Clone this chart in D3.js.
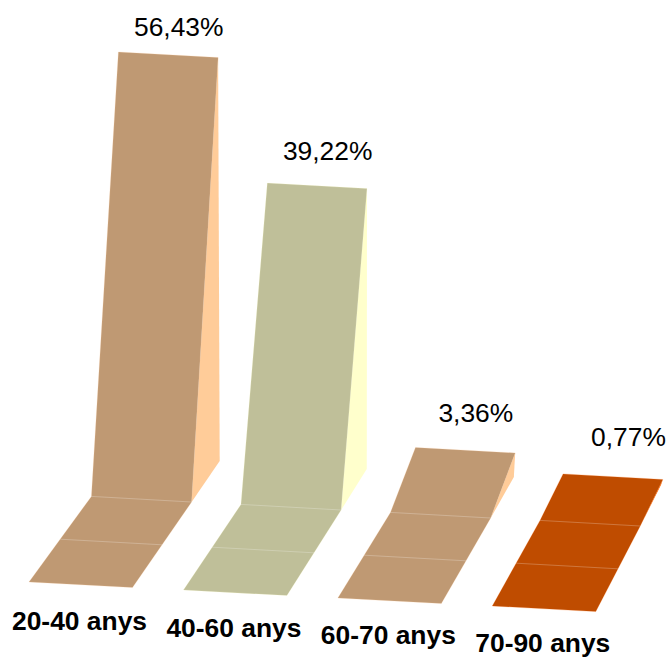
<!DOCTYPE html>
<html>
<head>
<meta charset="utf-8">
<style>
  html, body { margin: 0; padding: 0; background: #fff; }
  svg { display: block; }
  text { font-family: "Liberation Sans", Arial, sans-serif; fill: #000; }
</style>
<script src="https://cdn.jsdelivr.net/npm/d3@7"></script>
</head>
<body>
<svg id="chart" width="669" height="657"></svg>
<script>
// Age bands and their share, in percent
const categories = ["20-40 anys", "40-60 anys", "60-70 anys", "70-90 anys"];
const values = [56.43, 39.22, 3.36, 0.77];
const valueLabels = ["56,43%", "39,22%", "3,36%", "0,77%"];
const faceColors = ["#bf9973", "#bfbf99", "#bf9973", "#bf4c00"];
const sideColors = ["#ffcc99", "#ffffcc", "#ffcc99", "#ff6600"];

// Oblique projection: a floor of two tiles per ribbon, then a wall rising with the value
const baseX = d3.scaleLinear().domain([0, 3]).range([29, 492.3]);
const baseY = d3.scaleLinear().domain([0, 3]).range([582, 606]);
const ribbonWidth = 103.5;
const widthFall = 5.6;          // downward drift of the right edge
const tileRise = 42.8;
const tileRun = d3.scaleLinear().domain([29, 597]).range([31.2, 22.2]);
const wallHeight = d3.scaleLinear().domain([0, 60]).range([41, 470]);
const wallLean = d3.scaleLinear().domain([0, 3.36, 56.43]).range([22.5, 25, 27]);
const labelLift = d3.scaleLinear().domain([0, 1, 2, 3]).range([16, 22.5, 25, 28]);
const labelShift = d3.scaleLinear().domain([0, 2, 3]).range([10.5, 10.5, 15.5]);
const nameBaseline = d3.scaleLinear().domain([0, 3]).range([629.5, 651.5]);

const rows = categories.map((name, i) => {
  const x0 = baseX(i), y0 = baseY(i);
  const x1 = x0 + ribbonWidth, y1 = y0 + widthFall;
  const runL = tileRun(x0), runR = tileRun(x1);
  const floorAt = t => [
    [x0 + runL * t, y0 - tileRise * t],
    [x1 + runR * t, y1 - tileRise * t]
  ];
  const [foldL, foldR] = floorAt(2);
  const h = wallHeight(values[i]), lean = wallLean(values[i]);
  return {
    name, i,
    value: values[i],
    label: valueLabels[i],
    face: faceColors[i],
    side: sideColors[i],
    front: [x0, y0],
    frontRight: [x1, y1],
    foldL, foldR,
    topL: [foldL[0] + lean, foldL[1] - h],
    topR: [foldR[0] + lean - 0.5, foldR[1] - h],
    backBase: [foldR[0] + runR - 1.5, foldR[1] - wallHeight(0)],
    folds: [floorAt(1), floorAt(2)]
  };
});

const svg = d3.select("#chart");
const poly = d3.line().curve(d3.curveLinearClosed);
const seg = d3.line();

const ribbons = svg.selectAll("g.ribbon")
  .data(rows)
  .join("g")
  .attr("class", "ribbon");

// Right-hand side of the wall
ribbons.append("path")
  .attr("d", d => poly([d.foldR, d.topR, d.backBase]))
  .attr("fill", d => d.side);

// Floor and wall as one folded surface
ribbons.append("path")
  .attr("d", d => poly([d.front, d.frontRight, d.foldR, d.topR, d.topL, d.foldL]))
  .attr("fill", d => d.face)
  .attr("stroke", d => d.side)
  .attr("stroke-opacity", 0.35)
  .attr("stroke-width", 0.6);

// Faint seams between the tiles
ribbons.selectAll("path.seam")
  .data(d => d.folds)
  .join("path")
  .attr("class", "seam")
  .attr("d", f => seg(f))
  .attr("fill", "none")
  .attr("stroke", "#fff")
  .attr("stroke-opacity", 0.3)
  .attr("stroke-width", 0.8);

// Percentages above each wall
ribbons.append("text")
  .attr("x", d => (d.topL[0] + d.topR[0]) / 2 + labelShift(d.i))
  .attr("y", d => d.topL[1] - labelLift(d.i))
  .attr("text-anchor", "middle")
  .attr("font-size", 26.4)
  .text(d => d.label);

// Age band names below each floor
ribbons.append("text")
  .attr("x", d => d.front[0] - 17)
  .attr("y", d => nameBaseline(d.i))
  .attr("font-size", 26.4)
  .attr("font-weight", "bold")
  .text(d => d.name);
</script>
</body>
</html>
